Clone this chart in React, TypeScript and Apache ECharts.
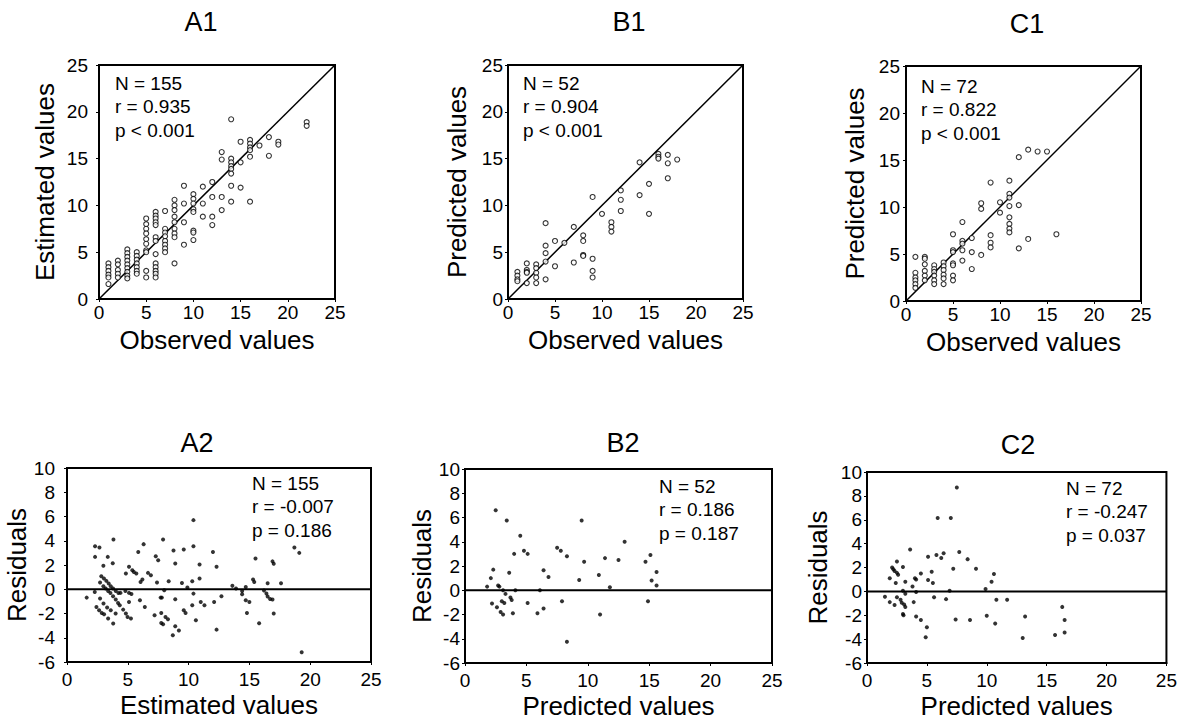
import React, { useEffect, useRef } from "react";
import * as echarts from "echarts";

const FONT = '"Liberation Sans", Arial, Helvetica, sans-serif';

// ---------- Data ----------
// A1: observed value -> estimated values
const a1Columns: [number, number[]][] = [
  [1, [3.8, 3.4, 3.0, 2.6, 2.3, 1.6]],
  [2, [4.1, 3.7, 3.1, 2.7, 2.3]],
  [3, [5.3, 4.9, 4.5, 4.1, 3.7, 3.3, 2.9, 2.5, 2.2]],
  [4, [5.0, 4.6, 4.2, 3.8, 3.4, 3.0, 2.7]],
  [5, [8.6, 8.0, 7.5, 7.0, 6.4, 5.9, 5.2, 5.0, 3.0, 2.3]],
  [6, [9.3, 8.9, 8.6, 8.2, 7.9, 6.6, 6.2, 4.8, 3.8, 3.4, 3.0, 2.7, 2.3]],
  [7, [9.4, 7.5, 7.1, 6.7, 6.2, 5.8, 5.4, 5.0]],
  [8, [10.6, 10.0, 9.5, 8.8, 8.2, 7.5, 7.0, 6.6, 3.8]],
  [9, [12.1, 10.2, 8.2, 5.8]],
  [10, [11.2, 10.7, 10.2, 9.6, 9.3, 7.3, 7.1, 6.3]],
  [11, [12.0, 10.2, 8.8]],
  [12, [12.5, 10.9, 8.8, 7.9]],
  [13, [15.7, 14.9, 10.9, 9.5]],
  [14, [19.2, 15.0, 14.6, 14.2, 13.9, 13.4, 12.1, 10.4]],
  [15, [16.8, 14.6, 11.9]],
  [16, [17.0, 16.6, 16.2, 15.9, 15.2, 10.4]],
  [17, [16.4]],
  [18, [17.3, 15.3]],
  [19, [16.8, 16.5]],
  [22, [18.9, 18.5]],
];

// B1: observed value -> predicted values
const b1Columns: [number, number[]][] = [
  [1, [2.9, 2.5, 2.1, 1.9]],
  [2, [3.8, 3.1, 2.9, 2.8, 1.7]],
  [3, [3.7, 3.3, 2.8, 2.3, 1.7]],
  [4, [8.1, 5.7, 4.9, 4.0, 2.1]],
  [5, [6.2, 3.5]],
  [6, [6.0]],
  [7, [7.7, 3.9]],
  [8, [6.8, 6.2, 4.7, 4.6]],
  [9, [10.9, 4.3, 3.0, 2.3]],
  [10, [9.1]],
  [11, [8.2, 7.7, 7.2]],
  [12, [11.6, 10.6, 9.4]],
  [14, [14.6, 11.1]],
  [15, [12.3, 9.1]],
  [16, [15.5, 15.2, 15.0]],
  [17, [15.4, 14.5, 12.9]],
  [18, [14.9]],
];

// C1: observed value -> predicted values
const c1Columns: [number, number[]][] = [
  [1, [4.7, 3.0, 2.5, 2.2, 1.8, 1.4]],
  [2, [4.7, 4.5, 3.9, 3.2, 2.7, 2.2]],
  [3, [3.8, 3.4, 3.1, 2.7, 2.2, 1.8]],
  [4, [4.1, 3.7, 3.3, 2.8, 2.4, 1.8]],
  [5, [7.1, 5.4, 5.2, 4.0, 3.8, 2.7, 2.2]],
  [6, [8.4, 6.4, 6.1, 5.4, 4.3]],
  [7, [6.7, 5.2, 3.4]],
  [8, [10.4, 9.8, 4.9]],
  [9, [12.6, 7.0, 6.2, 5.7]],
  [10, [10.5, 9.4]],
  [11, [12.8, 11.4, 11.0, 10.1, 8.9, 8.2, 7.7, 7.3]],
  [12, [15.3, 10.2, 5.6]],
  [13, [16.1, 6.6]],
  [14, [15.9]],
  [15, [15.9]],
  [16, [7.1]],
];

// A2: estimated value, residual
const a2Points: [number, number][] = [
  [1.62, -0.69], [2.31, 3.55], [2.67, 3.45], [2.31, 2.67], [3.82, 4.1], [3.35, 2.67], [2.99, 1.93], [3.76, 2.15],
  [2.82, 1.07], [3.04, 0.88], [3.24, 0.69], [3.43, 0.47], [3.6, 0.25], [3.79, 0.06], [4.01, -0.14], [4.23, -0.31],
  [2.72, 0.55], [2.99, 0.25], [3.18, 0.06], [3.38, -0.14], [3.57, -0.31], [3.79, -0.58], [4.01, -0.85], [4.2, -1.13], [4.34, -1.32],
  [2.28, -0.22], [2.72, -0.77], [3.0, -1.18], [3.3, -1.51], [3.6, -1.74],
  [2.42, -1.46], [2.64, -1.74], [2.86, -1.96], [3.05, -2.07], [3.38, -2.42], [3.8, -2.83], [4.0, -2.0],
  [4.62, -1.68], [4.84, -2.0], [4.98, -2.29], [5.26, -2.42],
  [4.4, -0.3], [4.8, -0.14], [5.1, -0.3], [5.3, -0.4], [5.1, -1.05],
  [4.84, 1.3], [5.1, 1.85], [5.37, 1.57], [5.5, 1.43], [5.7, 1.3],
  [6.0, -0.9], [6.4, -1.46], [6.05, 0.6], [6.2, 0.8], [6.66, 1.35], [6.9, 1.16], [5.86, 3.08], [6.3, 3.72],
  [7.4, 0.55], [7.7, -0.69], [7.8, -0.69], [7.3, 2.73], [7.5, 2.4], [7.2, -2.15], [7.75, -1.96], [8.1, -2.29], [8.3, -2.48],
  [7.75, -2.78], [7.9, -2.89], [7.9, 4.1], [8.0, -0.08], [8.36, 0.66], [8.76, 3.2], [8.9, 2.12], [8.9, -0.83],
  [8.7, -3.8], [8.9, -3.06], [9.2, -3.4], [9.6, -1.74], [9.75, -1.96], [9.45, 0.52], [9.6, 3.28], [9.9, 0.14], [10.3, 0.66],
  [10.4, 5.7], [10.4, 3.55], [10.4, -0.36], [10.3, -1.32], [10.6, -2.56], [10.9, 2.04], [10.9, 0.88], [11.0, -1.05], [11.3, -1.32],
  [12.0, 3.08], [12.3, 1.85], [12.1, -1.05], [12.3, -3.33], [12.7, -0.58],
  [13.6, 0.28], [13.9, 0.06], [14.4, -0.14], [14.7, 0.19], [14.4, -0.41], [14.7, -0.9], [15.0, -1.05], [14.8, -1.96],
  [15.3, 0.8], [15.4, 0.6], [15.5, 2.54], [15.8, -2.8],
  [16.2, -0.1], [16.4, -0.35], [16.5, -0.6], [16.7, -0.8], [16.9, -0.85], [16.5, 0.5], [16.9, 2.3], [17.0, 2.1], [17.0, -2.0],
  [17.6, 0.5], [18.7, 3.45], [19.1, 3.0], [19.3, -5.2],
];

// B2: predicted value, residual
const b2Points: [number, number][] = [
  [1.8, 0.3], [2.1, 1.0], [2.2, -1.1], [2.3, 1.7], [2.5, 6.6], [2.6, -1.4], [2.7, 0.4], [2.8, 0.3],
  [2.9, -1.8], [3.1, -2.0], [3.0, -0.9], [3.2, -1.05], [3.1, 0.0], [3.3, -0.3], [3.4, 5.75], [3.6, 1.45],
  [3.7, -0.6], [3.8, -0.8], [3.9, -1.9], [4.0, 3.0], [4.1, 0.0], [4.5, 4.5], [4.8, 3.25], [5.1, 3.0],
  [5.1, -1.05], [5.9, -1.9], [6.1, 0.0], [6.4, 1.65], [6.4, -1.5], [6.8, 1.1], [7.5, 3.5], [7.8, 3.25],
  [7.9, -0.9], [8.3, 2.8], [8.3, -4.25], [9.3, 0.85], [9.5, 5.75], [9.7, 2.35], [10.9, 1.25], [11.0, -2.0],
  [11.4, 2.65], [11.8, 0.25], [12.5, 2.5], [13.0, 4.0], [14.7, 2.35], [14.9, -0.9], [15.1, 2.9], [15.2, 0.8],
  [15.6, 1.5], [15.6, 0.4],
];

// C2: predicted value, residual
const c2Points: [number, number][] = [
  [1.5, -0.45], [1.9, 1.1], [1.9, -0.9], [2.3, -1.15], [2.1, 2.0], [2.2, 1.85], [2.3, 1.7], [2.5, 1.55], [2.6, 1.4],
  [2.4, 0.7], [2.5, 2.5], [2.5, -0.5], [2.8, -0.7], [2.9, -0.95], [3.0, -1.9], [3.05, -2.0], [3.0, 2.05],
  [3.0, 0.05], [3.2, 0.8], [3.2, -0.2], [3.1, -1.1], [3.2, -1.3], [3.6, 3.5], [3.8, 0.4], [3.9, -0.9],
  [4.0, 1.1], [4.1, 1.0], [4.1, -0.05], [4.1, -2.1], [4.5, -2.4], [4.5, 1.5], [5.0, -3.0], [4.9, -3.85],
  [5.1, 0.95], [5.1, 2.9], [5.4, 1.65], [5.5, 0.7], [5.6, -0.5], [5.8, 3.05], [5.9, 6.15], [6.2, 2.8],
  [6.4, 3.2], [6.6, -0.65], [7.0, 6.15], [6.9, 0.05], [7.2, 1.9], [7.4, -2.35], [7.5, 8.7], [7.7, 3.3],
  [8.4, 2.7], [8.6, -2.4], [9.1, 1.9], [9.9, 0.2], [10.0, -2.05], [10.4, 0.8], [10.6, 1.45], [10.7, -2.7],
  [10.8, -0.7], [11.7, -0.7], [13.2, -2.1], [13.0, -3.9], [15.7, -3.65], [16.3, -1.3], [16.5, -2.4], [16.5, -3.45],
];

const diagonalLine: [number, number][] = [[0, 0], [25, 25]];
const zeroLine: [number, number][] = [[0, 0], [25, 0]];

const panelTitles = ["A1", "B1", "C1", "A2", "B2", "C2"];
const xNames = ["Observed values", "Observed values", "Observed values", "Estimated values", "Predicted values", "Predicted values"];
const yNames = ["Estimated values", "Predicted values", "Predicted values", "Residuals", "Residuals", "Residuals"];
const statsText: string[][] = [
  ["N = 155", "r = 0.935", "p < 0.001"],
  ["N = 52", "r = 0.904", "p < 0.001"],
  ["N = 72", "r = 0.822", "p < 0.001"],
  ["N = 155", "r = -0.007", "p = 0.186"],
  ["N = 52", "r = 0.186", "p = 0.187"],
  ["N = 72", "r = -0.247", "p = 0.037"],
];

const flatten = (cols: [number, number[]][]): [number, number][] =>
  cols.flatMap(([x, ys]) => ys.map((y) => [x, y] as [number, number]));

// ---------- Layout ----------
const grids = [
  { left: 99, top: 65, width: 236, height: 234 },
  { left: 508, top: 65, width: 235, height: 234 },
  { left: 906, top: 66, width: 235, height: 235 },
  { left: 67, top: 468, width: 304, height: 194 },
  { left: 465, top: 469, width: 307, height: 194 },
  { left: 867, top: 472, width: 301, height: 194 },
];
const yLabelMargins = [11, 5, 6, 12, 5, 5];
const yNameGaps = [41, 38, 38, 29, 29, 36];
const titlePos = [[201, 22], [629, 22], [1027, 24], [197, 443], [623, 443], [1018, 445]];
const statsPos = [[115, 83], [523, 83], [921, 86], [252, 483], [659, 486], [1066, 488]];

export default function App() {
  const ref = useRef<HTMLDivElement>(null);
  useEffect(() => {
    if (!ref.current) return;
    const chart = echarts.init(ref.current, undefined, { renderer: "svg" });
    const pointSets = [flatten(a1Columns), flatten(b1Columns), flatten(c1Columns), a2Points, b2Points, c2Points];

    const xAxis = grids.map((_, i) => ({
      type: "value",
      gridIndex: i,
      min: 0,
      max: 25,
      interval: 5,
      name: xNames[i],
      nameLocation: "middle",
      nameGap: i < 3 ? 28 : 30,
      nameTextStyle: { fontFamily: FONT, fontSize: 26, color: "#000" },
      axisLine: { show: true, onZero: false, lineStyle: { color: "#000", width: 2 } },
      axisTick: { show: true, inside: false, length: 3, lineStyle: { color: "#000", width: 1 } },
      axisLabel: { fontFamily: FONT, fontSize: 19, color: "#000", margin: i < 3 ? 4 : 8 },
      splitLine: { show: false },
    }));
    const yAxis = grids.map((_, i) => ({
      type: "value",
      gridIndex: i,
      min: i < 3 ? 0 : -6,
      max: i < 3 ? 25 : 10,
      interval: i < 3 ? 5 : 2,
      name: yNames[i],
      nameLocation: "middle",
      nameGap: yNameGaps[i],
      nameTextStyle: { fontFamily: FONT, fontSize: 26, color: "#000" },
      axisLine: { show: true, onZero: false, lineStyle: { color: "#000", width: 2 } },
      axisTick: { show: true, inside: false, length: 3, lineStyle: { color: "#000", width: 1 } },
      axisLabel: { fontFamily: FONT, fontSize: 19, color: "#000", margin: yLabelMargins[i] },
      splitLine: { show: false },
    }));

    const series: any[] = [];
    pointSets.forEach((pts, i) => {
      const top = i < 3;
      series.push({
        type: "line",
        xAxisIndex: i,
        yAxisIndex: i,
        data: top ? diagonalLine : zeroLine,
        symbol: "none",
        silent: true,
        lineStyle: { color: "#000", width: top ? 1.5 : 2 },
        z: 1,
      });
      series.push({
        type: "scatter",
        xAxisIndex: i,
        yAxisIndex: i,
        data: pts,
        symbol: "circle",
        symbolSize: top ? 5 : 4,
        itemStyle: top
          ? { color: "#fff", borderColor: "#000", borderWidth: 1.1 }
          : { color: "#000", borderColor: "#000", borderWidth: 0 },
        z: 3,
      });
    });

    const graphic: any[] = [];
    panelTitles.forEach((t, i) => {
      graphic.push({
        type: "text",
        x: titlePos[i][0],
        y: titlePos[i][1],
        style: {
          text: t,
          fill: "#000",
          font: `27px ${FONT}`,
          align: "center",
          verticalAlign: "middle",
        },
      });
      statsText[i].forEach((line, k) => {
        graphic.push({
          type: "text",
          x: statsPos[i][0],
          y: statsPos[i][1] + k * 23.5,
          style: {
            text: line,
            fill: "#000",
            font: `19px ${FONT}`,
            align: "left",
            verticalAlign: "middle",
          },
        });
      });
    });

    chart.setOption({
      animation: false,
      backgroundColor: "#fff",
      textStyle: { fontFamily: FONT },
      grid: grids.map((g) => ({
        ...g,
        show: true,
        borderColor: "#000",
        borderWidth: 2,
        backgroundColor: "transparent",
        containLabel: false,
      })),
      xAxis,
      yAxis,
      series,
      graphic,
    });
    return () => chart.dispose();
  }, []);

  return (
    <div
      ref={ref}
      style={{ position: "fixed", left: 0, top: 0, width: 1180, height: 720, background: "#fff" }}
    />
  );
}
